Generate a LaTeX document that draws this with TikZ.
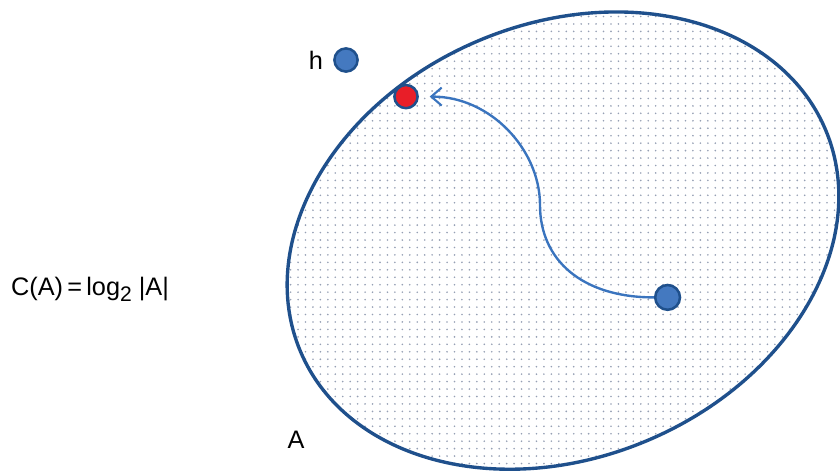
\documentclass[tikz,border=0pt]{standalone}
\usepackage{fontspec}
\setmainfont{Liberation Sans}
\usepackage{xcolor}
\usetikzlibrary{arrows.meta,patterns.meta}

\definecolor{rimblue}{RGB}{31,80,140}
\definecolor{ballblue}{RGB}{68,121,192}
\definecolor{pathblue}{RGB}{58,116,190}
\definecolor{ballred}{RGB}{232,30,40}
\definecolor{dotgray}{RGB}{150,160,180}

\tikzset{
    ball/.style={circle, draw=rimblue, line width=1.8pt, inner sep=0pt, minimum size=0.58cm},
    lbl/.style={font=\fontsize{18}{21}\selectfont, inner sep=0pt}
}

\begin{document}
\begin{tikzpicture}
    % Frame of the picture
    \useasboundingbox (0,0) rectangle (21,11.775);

    % The set A as a tilted ellipse with dotted fill
    \draw[rimblue, line width=2.4pt, pattern={Dots[radius=0.65pt, distance=5.3pt]}, pattern color=dotgray]
        (14.075,5.76) ellipse [x radius=7.125, y radius=5.425, rotate=22.9];

    % Points
    \node[ball, fill=ballblue] (h) at (8.65,10.275) {};
    \node[ball, fill=ballred] (hit) at (10.15,9.36) {};
    \node[ball, fill=ballblue, minimum size=0.62cm] (start) at (16.69,4.34) {};

    % Labels
    \node[lbl] (hlbl) at (7.9,10.275) {h};
    \node[lbl] (alpha) at (7.4,0.78) {A};
    \node[lbl] (cap) at (2.25,4.55) {C(A)\,=\,log\raisebox{-0.45ex}{\fontsize{15}{15}\selectfont 2} |A|};

    % Path from the inner point to the boundary
    \coordinate (bend) at (13.5,6.65);
    \draw[pathblue, line width=1.7pt, -{Straight Barb[length=2.6mm, width=4.5mm, line width=1.5pt]}, shorten >=0.27cm]
        (start.west) .. controls +(-1.8,0) and +(0,-1.375) .. (bend)
        .. controls +(0,1.375) and +(1.8,0) .. (hit.east);

\end{tikzpicture}
\end{document}
